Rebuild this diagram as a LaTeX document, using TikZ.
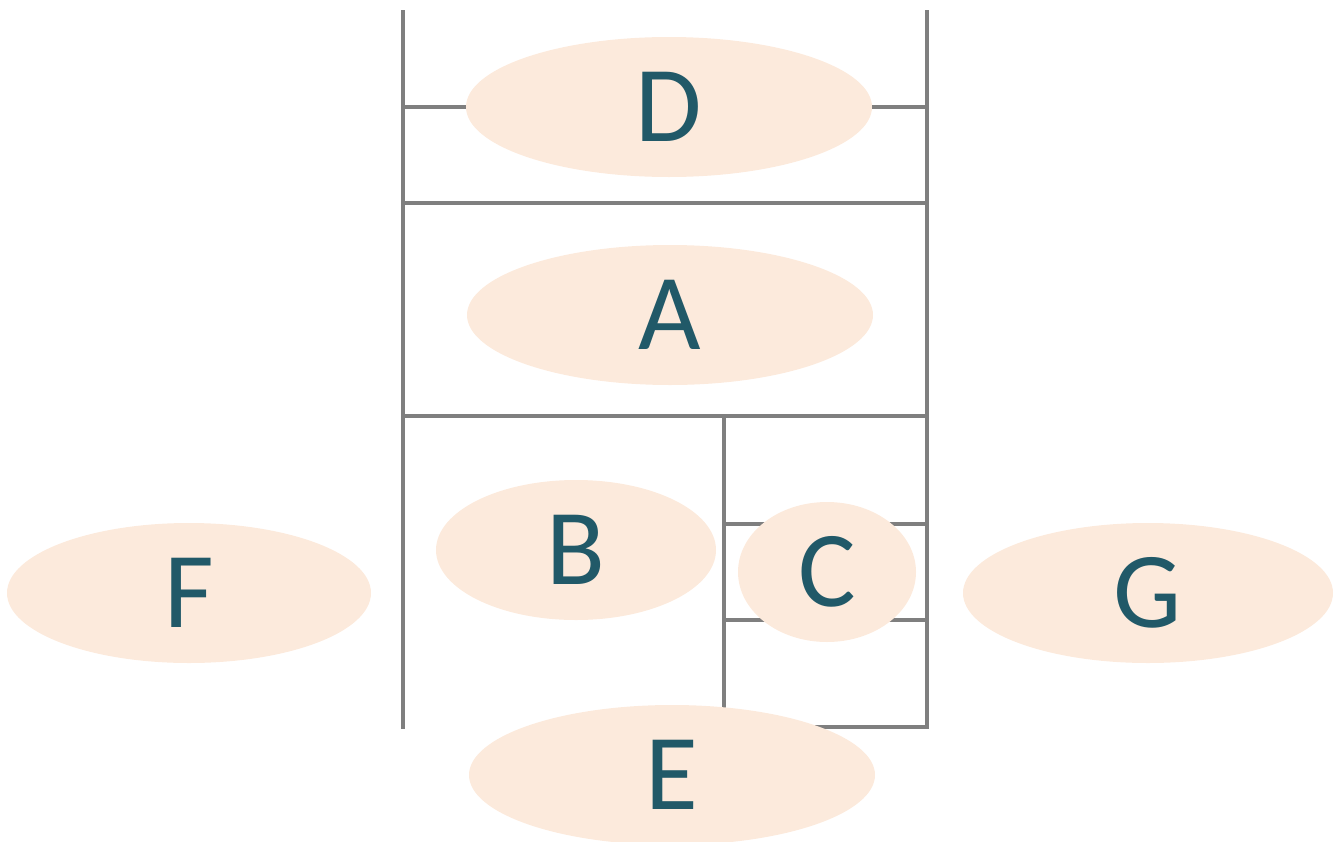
\documentclass[tikz,border=0pt]{standalone}
\usepackage{fontspec}
\setmainfont{Carlito}
\usetikzlibrary{shapes.geometric}
\definecolor{gridgray}{HTML}{7F7F7F}
\definecolor{blobfill}{HTML}{FCEADC}
\definecolor{labeltext}{HTML}{215968}
\tikzset{
  wall/.style={draw=gridgray, line width=4pt, line cap=rect},
  blob/.style={ellipse, fill=blobfill, inner sep=0pt, text=labeltext,
    font=\fontsize{108}{108}\selectfont},
}
\begin{document}
\begin{tikzpicture}[x=1pt, y=-1pt]
  \useasboundingbox (0,0) rectangle (1344,841);
  \clip (0,0) rectangle (1344,841);
  % frame lines
  \draw[wall] (403,12) -- (403,727);
  \draw[wall] (927,12) -- (927,727);
  \draw[wall] (403,107) -- (927,107);
  \draw[wall] (403,203) -- (927,203);
  \draw[wall] (403,416) -- (927,416);
  \draw[wall] (724,416) -- (724,727) -- (927,727);
  \draw[wall] (724,524) -- (927,524);
  \draw[wall] (724,620) -- (927,620);
  % labelled ellipses
  \node[blob, minimum width=406pt, minimum height=140pt] (D) at (669,107) {D};
  \node[blob, minimum width=406pt, minimum height=140pt] (A) at (670,315) {A};
  \node[blob, minimum width=280pt, minimum height=140pt] (B) at (576,550) {B};
  \node[blob, minimum width=178pt, minimum height=140pt] (C) at (827,572) {C};
  \node[blob, minimum width=364pt, minimum height=140pt] (F) at (189,593) {F};
  \node[blob, minimum width=370pt, minimum height=140pt] (G) at (1148,593) {G};
  \node[blob, minimum width=406pt, minimum height=140pt] (E) at (672,775) {E};
\end{tikzpicture}
\end{document}
